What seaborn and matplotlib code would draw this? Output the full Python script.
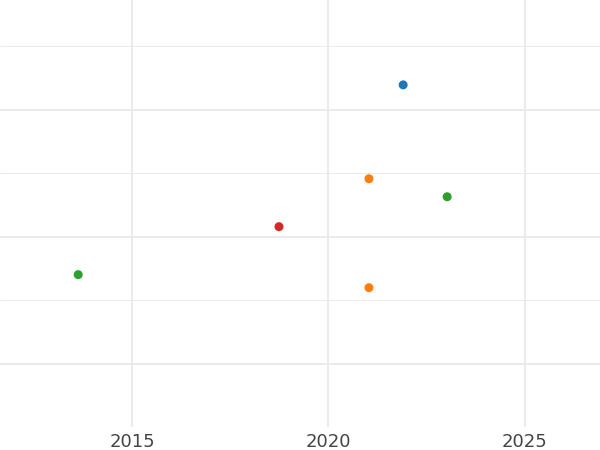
import matplotlib
matplotlib.use("Agg")
import matplotlib.pyplot as plt
import seaborn as sns
import pandas as pd
from matplotlib.ticker import MultipleLocator

years = [2021.9, 2021.03, 2023.02, 2018.74, 2013.63, 2021.03]
values = [21.97, 14.57, 13.15, 10.79, 7.01, 5.98]
groups = ["A", "B", "C", "D", "C", "B"]
group_order = ["A", "B", "C", "D"]
palette = ["#1f77b4", "#ff7f0e", "#2ca02c", "#d62728"]

df = pd.DataFrame({"year": years, "value": values, "group": groups})

sns.set_theme(style="white")
plt.rcParams["font.family"] = ["DejaVu Sans"]
fig = plt.figure(figsize=(6, 4.5), dpi=100)
ax = fig.add_axes([0, 23 / 450, 1, 427 / 450])

sns.scatterplot(data=df, x="year", y="value", hue="group", hue_order=group_order,
                palette=palette, s=42, linewidth=0, legend=False, ax=ax, zorder=3)

ax.set_xlim(2011.64, 2026.91)
ax.set_ylim(-5, 28.66)
ax.xaxis.set_major_locator(MultipleLocator(5))
ax.yaxis.set_major_locator(MultipleLocator(10))
ax.yaxis.set_minor_locator(MultipleLocator(5))
ax.grid(which="major", axis="both", color="#ebebeb", linewidth=1.4)
ax.grid(which="minor", axis="y", color="#ebebeb", linewidth=0.7)
ax.set_axisbelow(True)
for s in ax.spines.values():
    s.set_visible(False)
ax.tick_params(axis="x", length=0, pad=4, labelsize=13, labelcolor="#444444")
ax.tick_params(axis="y", which="both", length=0, labelleft=False)
ax.set_xlabel("")
ax.set_ylabel("")

fig.savefig("out.png", dpi=100)
